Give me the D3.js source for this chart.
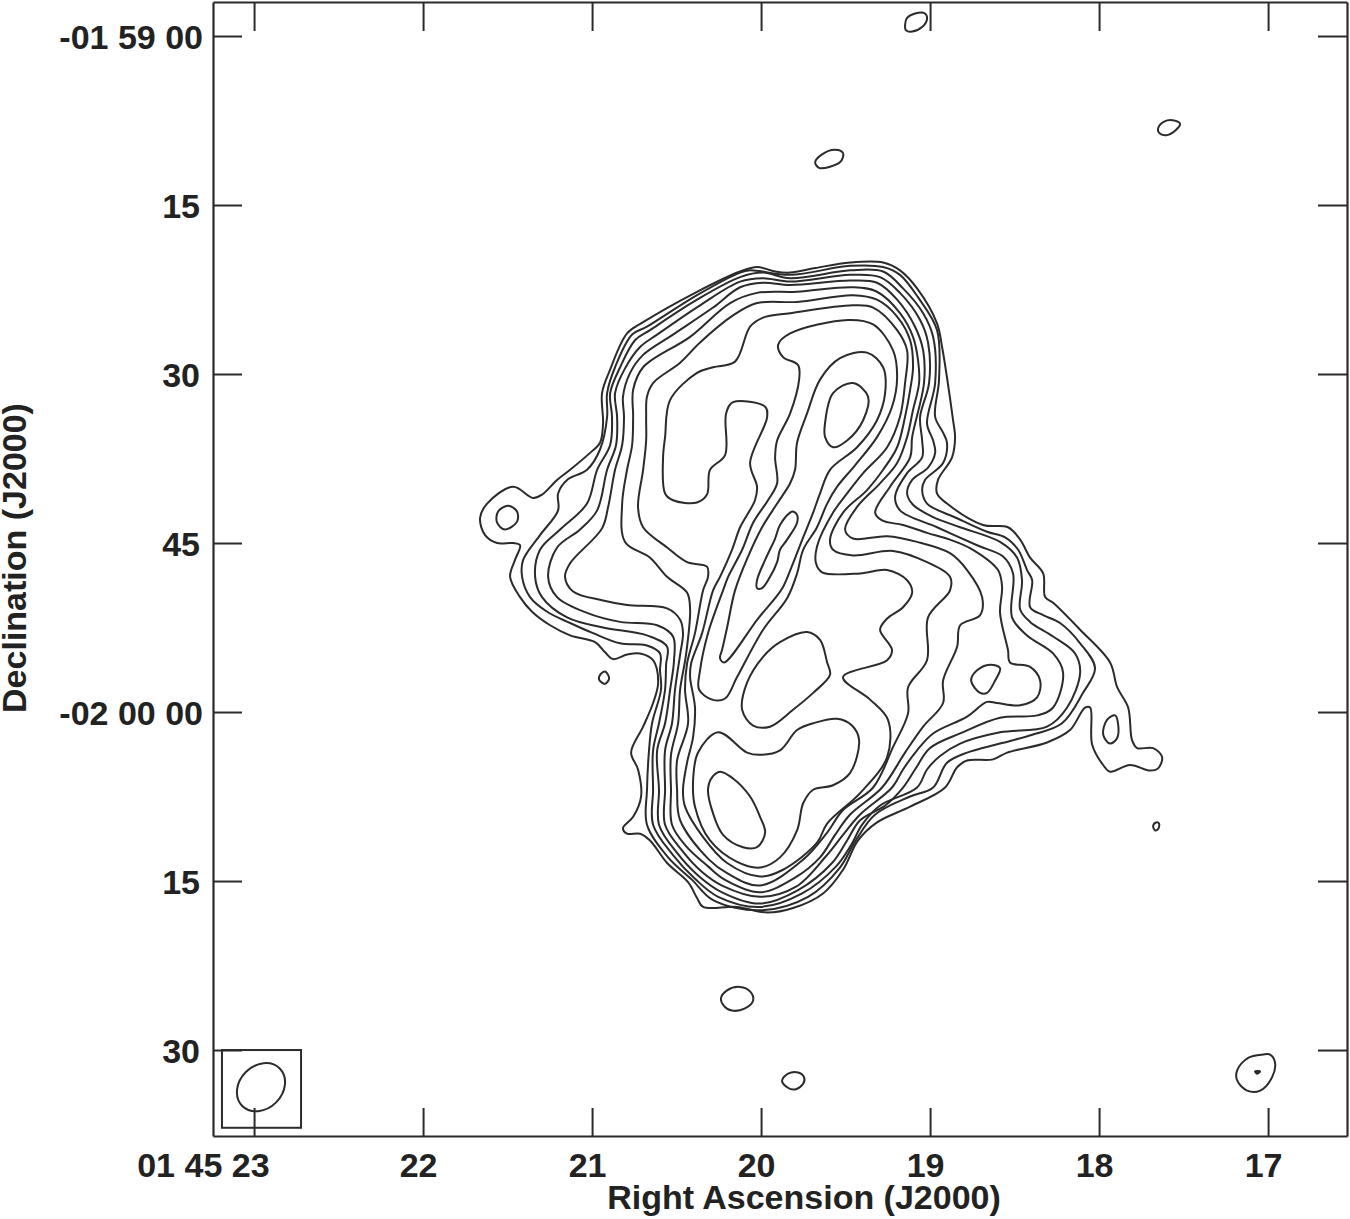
<!DOCTYPE html>
<html><head><meta charset="utf-8">
<style>html,body{margin:0;background:#fff}svg{display:block}</style>
<script src="https://cdn.jsdelivr.net/npm/d3@7/dist/d3.min.js"></script></head><body><div id="c"></div>
<script>
const raTicks=[23,22,21,20,19,18,17];
const raLabels=["01 45 23","22","21","20","19","18","17"];
const decTicks=[0,15,30,45,60,75,90];
const decLabels=["-01 59 00","15","30","45","-02 00 00","15","30"];
const level1=[20.024,20.5,19.917,20.9,19.828,21.0,19.680,20.6,19.473,20.1,19.278,20.1,19.178,20.8,19.077,22.4,18.959,25.5,18.929,27.6,18.900,30.3,18.864,34.1,18.852,35.6,18.870,37.4,18.953,39.4,18.959,40.6,18.900,41.5,18.687,43.4,18.539,43.6,18.467,44.7,18.408,46.3,18.331,47.7,18.319,49.8,18.272,50.3,18.112,52.7,17.935,55.6,17.893,57.8,17.828,59.6,17.805,62.5,17.775,63.2,17.680,63.2,17.627,64.0,17.651,65.0,17.698,65.2,17.817,64.7,17.935,65.3,17.976,64.7,18.041,62.9,18.053,59.6,18.083,59.6,18.172,61.6,18.308,62.7,18.544,63.6,18.627,64.2,18.781,64.3,18.840,64.9,18.911,66.7,19.118,68.4,19.314,69.8,19.426,71.4,19.515,74.0,19.633,76.1,19.811,77.4,19.964,77.8,20.142,77.3,20.343,77.3,20.379,76.5,20.432,75.1,20.556,73.4,20.657,71.4,20.716,70.8,20.793,70.8,20.817,70.3,20.757,69.3,20.710,67.5,20.728,65.1,20.769,63.6,20.698,61.3,20.639,59.2,20.609,57.4,20.639,55.4,20.716,54.8,20.793,54.9,20.876,55.3,20.923,54.7,20.982,53.8,21.130,53.2,21.248,52.3,21.355,51.1,21.426,49.8,21.485,48.0,21.456,46.5,21.426,45.2,21.467,45.0,21.562,45.0,21.633,44.3,21.663,42.8,21.621,41.5,21.467,40.0,21.349,41.0,21.296,40.7,21.207,39.4,21.130,38.5,21.012,37.0,20.953,36.1,20.935,34.4,20.941,31.7,20.893,29.6,20.793,26.4,20.698,25.4,20.379,22.7,20.124,20.9];
const level2=[20.065,20.8,19.828,21.2,19.473,20.4,19.278,20.5,19.178,21.2,19.071,23.2,18.959,26.1,18.947,30.5,18.970,33.8,18.923,35.2,18.900,36.1,18.923,37.9,19.030,39.4,19.047,40.3,19.018,41.5,18.840,42.8,18.663,44.0,18.556,44.5,18.479,45.6,18.426,47.4,18.396,48.3,18.408,50.7,18.331,51.4,18.231,52.1,18.112,53.9,18.024,56.1,18.095,58.3,18.219,61.0,18.391,62.0,18.586,62.8,18.781,63.6,18.900,64.5,18.982,66.7,19.118,67.5,19.325,69.1,19.444,71.5,19.533,73.8,19.722,76.4,20.006,77.6,20.284,76.7,20.408,74.9,20.550,72.9,20.675,70.0,20.675,66.9,20.663,63.4,20.645,61.0,20.592,58.0,20.598,56.3,20.598,54.8,20.675,54.1,20.834,53.9,20.994,53.0,21.130,52.1,21.266,51.1,21.367,49.8,21.414,48.0,21.408,46.5,21.308,44.3,21.201,42.1,21.201,40.6,21.148,39.4,21.030,38.5,20.953,36.7,20.911,33.8,20.911,31.7,20.864,29.4,20.763,26.5,20.675,25.8,20.379,23.0,20.124,21.0];
const level3=[19.988,21.0,19.828,21.5,19.473,20.8,19.278,20.9,19.160,22.4,19.041,24.6,18.982,26.7,18.970,30.8,19.018,34.4,18.982,35.9,18.970,37.0,19.012,38.3,19.106,39.4,19.136,40.6,19.101,41.6,18.982,42.7,18.822,43.6,18.586,44.9,18.485,46.3,18.456,48.3,18.467,50.9,18.408,52.0,18.272,53.3,18.142,54.8,18.112,56.5,18.189,59.6,18.308,61.3,18.586,61.8,18.822,62.8,18.941,63.9,19.018,65.1,19.077,66.7,19.296,68.3,19.402,70.0,19.467,71.8,19.556,73.7,19.757,76.1,20.006,77.3,20.254,76.4,20.391,74.8,20.521,72.7,20.639,70.0,20.639,66.9,20.639,63.4,20.604,61.0,20.568,58.0,20.562,55.8,20.556,54.2,20.675,53.2,20.935,52.5,21.148,51.6,21.296,49.8,21.337,48.0,21.308,45.6,21.189,43.8,21.030,41.5,20.970,38.5,20.893,36.3,20.882,33.8,20.893,31.7,20.834,29.4,20.746,27.0,20.657,26.1,20.379,23.4,20.124,21.4];
const level4=[19.988,21.5,19.828,21.8,19.473,21.2,19.296,21.4,19.178,22.8,19.059,25.2,19.012,27.2,19.006,30.8,19.059,33.8,19.047,35.9,19.047,37.4,19.136,38.8,19.207,40.9,19.178,42.1,18.959,43.6,18.722,45.2,18.568,46.2,18.509,47.7,18.515,51.6,18.426,53.2,18.272,54.8,18.213,56.5,18.272,59.6,18.367,60.3,18.586,60.5,18.822,61.9,19.000,63.2,19.089,65.1,19.160,66.7,19.266,68.3,19.414,69.6,19.491,71.4,19.580,73.4,19.781,75.8,20.006,77.0,20.231,76.0,20.373,74.5,20.497,72.5,20.604,70.0,20.604,66.9,20.615,63.4,20.568,61.0,20.538,58.0,20.515,55.4,20.521,53.3,20.615,52.3,20.834,52.0,21.030,51.2,21.207,49.8,21.260,48.0,21.207,45.4,21.071,43.8,20.970,42.1,20.911,38.5,20.858,36.3,20.852,33.8,20.864,31.7,20.805,29.5,20.716,27.6,20.615,26.5,20.361,23.9,20.124,21.8];
const level5=[19.988,21.9,19.828,22.1,19.473,21.7,19.314,21.9,19.195,23.4,19.089,25.8,19.041,27.9,19.036,30.8,19.106,35.6,19.118,37.4,19.237,40.0,19.325,42.3,19.284,43.0,19.160,43.4,19.018,44.1,18.882,44.7,18.746,45.6,18.598,47.4,18.574,48.9,18.586,51.2,18.539,54.5,18.527,55.6,18.408,56.0,18.349,57.2,18.367,58.7,18.467,59.4,18.604,59.2,18.663,59.1,18.781,60.4,18.982,61.9,19.077,63.4,19.160,65.1,19.225,66.7,19.414,69.1,19.515,70.9,19.616,72.8,19.793,75.5,20.006,76.4,20.231,75.4,20.349,74.2,20.467,72.3,20.568,70.0,20.568,66.9,20.568,63.4,20.527,61.0,20.509,58.0,20.479,54.9,20.462,53.0,20.479,51.8,20.556,50.8,20.793,50.5,20.935,50.1,21.112,49.3,21.160,48.0,21.130,46.8,20.941,43.7,20.905,41.8,20.864,38.5,20.822,36.3,20.811,33.8,20.817,32.0,20.775,29.9,20.698,28.3,20.521,26.5,20.284,24.1,20.124,22.3];
const level6=[20.024,22.8,19.787,22.7,19.456,22.3,19.314,22.7,19.178,24.6,19.101,26.7,19.071,28.8,19.065,30.8,19.101,33.2,19.136,35.6,19.195,37.9,19.296,39.7,19.432,41.8,19.503,43.8,19.456,44.6,19.254,44.4,19.077,44.9,18.882,45.9,18.781,47.4,18.692,49.8,18.704,51.4,18.822,52.3,18.840,54.2,18.923,57.2,18.923,59.2,19.041,61.3,19.148,63.6,19.284,66.7,19.473,69.1,19.562,70.9,19.651,72.9,19.799,74.7,20.006,76.0,20.213,74.9,20.314,73.7,20.444,71.9,20.527,70.0,20.533,66.9,20.533,63.8,20.491,61.0,20.479,58.0,20.444,54.9,20.420,50.9,20.438,49.4,20.556,48.0,20.657,46.3,20.805,44.9,20.822,41.5,20.793,38.5,20.763,36.3,20.757,33.8,20.757,31.4,20.698,29.4,20.420,26.7,20.183,23.7];
const level7=[20.024,23.7,19.787,23.6,19.456,23.0,19.314,23.4,19.195,24.9,19.118,27.0,19.101,29.4,19.118,31.4,19.148,33.8,19.195,36.5,19.278,38.5,19.373,40.3,19.515,42.3,19.592,44.7,19.574,45.6,19.456,46.1,19.219,45.7,19.018,46.7,18.882,48.0,18.882,49.2,19.012,51.6,19.018,55.4,19.130,57.8,19.130,60.1,19.219,63.1,19.337,66.7,19.515,68.7,19.609,70.7,19.751,73.1,20.006,75.4,20.201,74.3,20.308,73.1,20.479,69.6,20.497,66.9,20.497,64.3,20.432,61.0,20.450,58.0,20.438,55.7,20.391,53.0,20.343,49.2,20.314,48.0,20.320,47.1,20.438,46.7,20.556,45.4,20.698,43.6,20.728,41.8,20.698,38.5,20.680,35.9,20.680,33.8,20.675,32.0,20.639,30.8,20.479,29.0,20.361,27.2,20.166,24.8];
const level8=[20.065,25.8,19.988,25.0,19.828,24.6,19.456,23.9,19.337,24.1,19.195,26.1,19.136,27.9,19.148,30.8,19.178,33.8,19.254,36.5,19.396,38.8,19.491,40.6,19.574,42.3,19.669,45.3,19.675,46.8,19.639,47.6,19.414,47.7,19.254,47.4,19.136,48.3,19.106,49.4,19.160,50.7,19.254,51.7,19.296,52.7,19.225,54.5,19.254,55.4,19.515,56.9,19.355,58.9,19.249,60.7,19.254,64.0,19.414,67.2,19.609,69.9,19.669,71.6,19.870,74.0,20.006,74.6,20.201,73.4,20.343,71.1,20.450,68.4,20.462,66.9,20.438,64.5,20.402,62.2,20.391,59.6,20.420,56.9,20.414,55.7,20.349,53.0,20.284,49.2,20.243,48.0,20.172,45.6,20.124,43.6,20.036,41.2,20.024,40.0,20.065,37.9,19.964,33.8,19.976,32.9,20.166,32.5,20.207,33.5,20.213,37.2,20.302,38.5,20.320,40.7,20.379,41.4,20.521,41.2,20.568,40.6,20.580,37.4,20.568,35.6,20.538,32.3,20.379,29.9,20.284,29.4,20.154,28.9];
const level9=[19.485,25.2,19.337,25.6,19.219,27.9,19.195,30.3,19.225,32.9,19.314,35.6,19.444,38.1,19.550,40.0,19.609,41.5,19.669,43.6,19.751,45.6,19.787,47.7,19.846,49.9,19.988,52.7,20.142,56.9,20.213,58.8,20.290,58.9,20.367,58.0,20.361,56.3,20.314,53.0,20.225,49.2,20.195,48.0,20.112,45.6,20.047,43.2,19.959,41.2,19.905,39.7,19.917,37.4,19.905,35.9,19.828,33.5,19.775,30.5,19.781,29.2,19.870,28.5,19.899,27.4,19.828,26.4];
const level10=[19.533,28.6,19.373,28.1,19.278,29.4,19.266,31.7,19.314,34.1,19.432,36.5,19.592,38.5,19.651,40.6,19.692,42.3,19.751,44.5,19.811,46.8,19.870,48.9,19.917,49.9,20.018,51.7,20.219,55.6,20.243,55.2,20.231,54.5,20.201,52.5,20.154,49.2,20.077,46.2,19.994,43.6,19.905,41.5,19.828,39.7,19.799,38.5,19.787,36.1,19.728,33.5,19.651,30.5];
const northOval=[19.621,34.3,19.574,31.7,19.456,30.8,19.367,32.0,19.396,34.1,19.491,35.9,19.574,36.5,19.621,35.6];
const narrowRidge=[19.811,42.2,19.787,42.5,19.787,43.2,19.846,44.7,19.888,45.6,19.905,46.7,19.947,48.0,19.994,49.0,20.024,49.0,20.024,48.3,19.976,46.5,19.917,44.6,19.888,43.4,19.828,42.3];
const centralBlob=[19.728,52.9,19.651,53.6,19.609,55.6,19.592,56.7,19.692,58.3,19.811,59.8,19.947,61.3,20.047,61.2,20.112,59.8,20.083,57.4,19.988,55.1,19.888,53.8];
const southLobe=[20.254,61.8,20.083,63.6,20.006,63.8,19.888,63.4,19.787,61.6,19.692,61.0,19.550,60.6,19.462,61.2,19.420,62.5,19.473,65.4,19.574,66.5,19.692,66.9,19.751,68.1,19.787,70.5,19.888,72.9,20.006,73.8,20.142,73.3,20.302,71.4,20.391,68.4,20.402,66.0,20.373,63.6];
const southCore=[20.243,65.3,20.166,65.9,20.065,67.5,20.006,69.3,19.976,70.7,20.024,72.0,20.107,72.0,20.225,70.9,20.284,69.0,20.314,66.9,20.290,65.8];
const eastOval=[18.586,56.1,18.645,55.8,18.722,56.3,18.757,57.2,18.704,58.3,18.663,58.3,18.615,57.2];
const eastKnot=[17.905,60.3,17.888,61.0,17.893,62.3,17.935,62.8,17.976,62.0,17.953,60.7];
const westKnot=[21.497,41.7,21.444,42.2,21.444,43.1,21.515,43.8,21.562,43.2,21.556,42.2];
const spotA=[20.923,56.4,20.899,57.0,20.923,57.5,20.959,57.1,20.947,56.6];
const spotB=[19.148,-1.0,19.136,-1.6,19.089,-2.0,19.030,-2.0,19.018,-1.5,19.047,-0.8,19.106,-0.4,19.142,-0.5];
const spotC=[17.651,8.2,17.615,7.6,17.556,7.5,17.521,7.8,17.550,8.4,17.604,8.8,17.645,8.6];
const spotD=[19.680,11.2,19.639,10.5,19.562,10.1,19.515,10.4,19.527,11.1,19.592,11.6,19.657,11.7];
const spotE=[20.237,85.4,20.201,84.7,20.124,84.4,20.065,84.8,20.047,85.6,20.095,86.3,20.172,86.5,20.219,86.1];
const spotF=[19.876,92.7,19.840,92.1,19.781,92.0,19.746,92.4,19.751,93.0,19.799,93.5,19.846,93.3];
const spotG=[16.988,90.4,16.959,91.1,16.976,92.4,17.047,93.6,17.124,93.6,17.183,92.7,17.183,91.8,17.118,90.7,17.030,90.4];
const spotGCore=[17.077,91.9,17.047,91.9,17.065,92.1];
const spotH=[17.680,70.1,17.663,69.8,17.645,69.9,17.651,70.4,17.669,70.5];
const beam={ra:22.959,dec:93.3,major:2.35,minor:1.9,angle:-45};
const beamBox={raLeft:23.19,raRight:22.722,decTop:90,decBottom:96.9};
const contours=[level1,level2,level3,level4,level5,level6,level7,level8,level9,level10,northOval,narrowRidge,centralBlob,southLobe,southCore,eastOval,eastKnot,westKnot,spotA,spotB,spotC,spotD,spotE,spotF,spotG,spotGCore,spotH];

const W=1350,H=1219,ink="#2b2b2b",FONT="'Liberation Sans',Arial,sans-serif";
const x=d3.scaleLinear().domain([23.243,16.533]).range([213,1347]);
const y=d3.scaleLinear().domain([-3.018,97.63]).range([2,1136]);
const svg=d3.select("#c").append("svg").attr("width",W).attr("height",H);
const pairs=a=>d3.range(0,a.length,2).map(i=>[a[i],a[i+1]]);
const line=d3.line().x(d=>x(d[0])).y(d=>y(d[1])).curve(d3.curveCatmullRomClosed.alpha(0.5));

svg.append("g").attr("fill","none").attr("stroke",ink).attr("stroke-width",2)
  .selectAll("path").data(contours).join("path").attr("d",d=>line(pairs(d)));
svg.append("path").attr("d",line(pairs(spotGCore))).attr("fill",ink).attr("stroke",ink);

svg.append("rect").attr("x",x(beamBox.raLeft)).attr("y",y(beamBox.decTop))
  .attr("width",x(beamBox.raRight)-x(beamBox.raLeft)).attr("height",y(beamBox.decBottom)-y(beamBox.decTop))
  .attr("fill","none").attr("stroke",ink).attr("stroke-width",2);
const unit=y(1)-y(0);
svg.append("ellipse").attr("rx",beam.major*unit).attr("ry",beam.minor*unit)
  .attr("transform",`translate(${x(beam.ra)},${y(beam.dec)}) rotate(${beam.angle})`)
  .attr("fill","none").attr("stroke",ink).attr("stroke-width",2);

const style=(g)=>{g.selectAll("path.domain,line").attr("stroke",ink).attr("stroke-width",2);g.selectAll("path.domain").attr("stroke-width",2.2);
  g.selectAll("text").attr("fill","#222").attr("font-family",FONT).attr("font-weight","bold").attr("font-size",34).style("white-space","pre");};
const gb=svg.append("g").attr("transform",`translate(0,${y.range()[1]})`)
  .call(d3.axisBottom(x).tickValues(raTicks).tickSizeInner(-28).tickSizeOuter(0).tickFormat((d,i)=>raLabels[i])).call(style);
gb.selectAll("text").attr("y",41).attr("dy",0).attr("text-anchor",(d,i)=>i?"middle":"end").attr("dx",(d,i)=>i?-5:15);
svg.append("g").attr("transform",`translate(0,${y.range()[0]})`)
  .call(d3.axisTop(x).tickValues(raTicks).tickSizeInner(-29).tickSizeOuter(0).tickFormat("")).call(style);
const gl=svg.append("g").attr("transform",`translate(${x.range()[0]},0)`)
  .call(d3.axisLeft(y).tickValues(decTicks).tickSizeInner(-29).tickSizeOuter(0).tickFormat((d,i)=>decLabels[i])).call(style);
gl.selectAll("text").attr("x",(d,i)=>decLabels[i].length>2?-10:-13).attr("dy",12);
svg.append("g").attr("transform",`translate(${x.range()[1]},0)`)
  .call(d3.axisRight(y).tickValues(decTicks).tickSizeInner(-29).tickSizeOuter(0).tickFormat("")).call(style);

svg.append("text").attr("x",804).attr("y",1209).attr("text-anchor","middle").attr("fill","#222")
  .attr("font-family",FONT).attr("font-weight","bold").attr("font-size",34).text("Right Ascension (J2000)");
svg.append("text").attr("transform","translate(26,558) rotate(-90)").attr("text-anchor","middle").attr("fill","#222")
  .attr("font-family",FONT).attr("font-weight","bold").attr("font-size",34).text("Declination (J2000)");
</script></body></html>
